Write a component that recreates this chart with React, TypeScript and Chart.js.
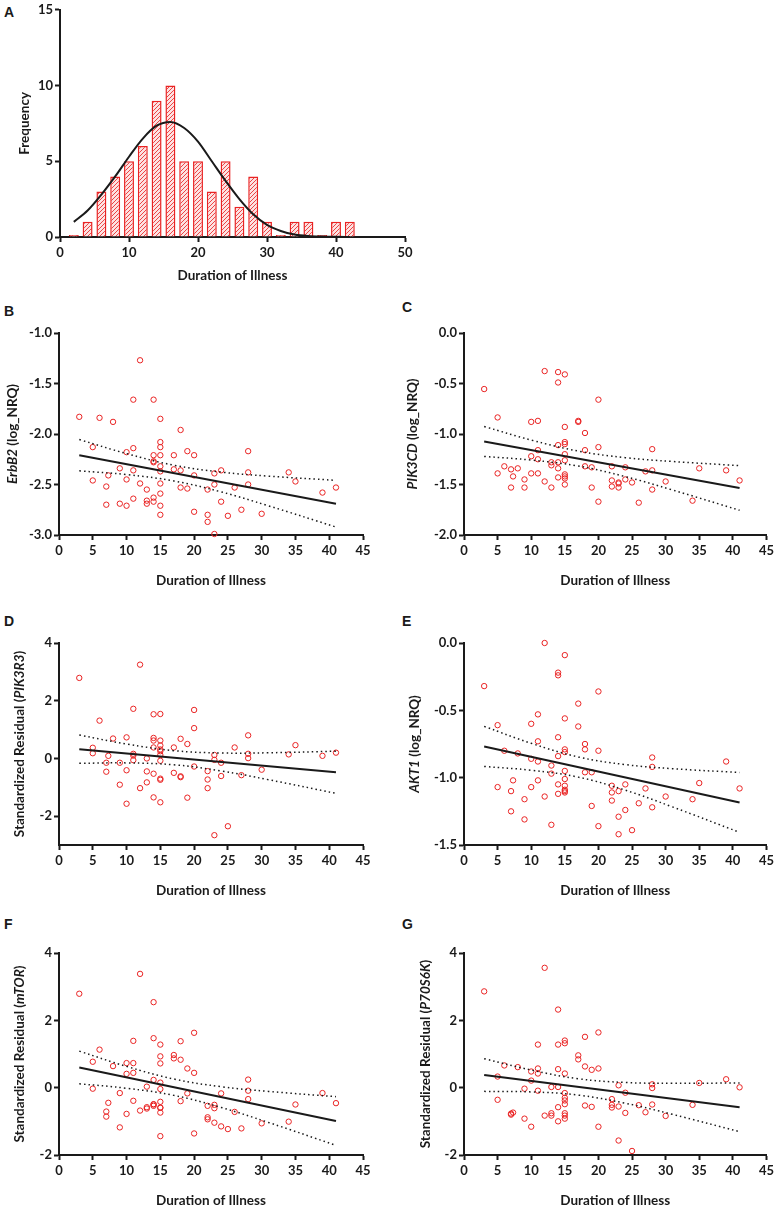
import React, { useEffect, useRef } from "react";
import { Chart, registerables } from "chart.js";
Chart.register(...registerables);

const FONT = "Lato, 'Open Sans', 'DejaVu Sans', sans-serif";
const INK = "#1a1a1a";
const RED = "rgb(233,35,35)";

// ---------- Panel A: histogram ----------
const histBins = [2, 4, 6, 8, 10, 12, 14, 16, 18, 20, 22, 24, 26, 28, 30, 32, 34, 36, 38, 40, 42];
const histFreq = [0, 1, 3, 4, 5, 6, 9, 10, 5, 5, 3, 5, 2, 4, 1, 0, 1, 1, 0, 1, 1];
const curveX = [2, 4, 6, 8, 10, 12, 14, 16, 18, 20, 22, 24, 26, 28, 30, 32, 34, 36, 38, 40, 42];
const curveY = [1.0, 1.75, 2.8, 4.0, 5.3, 6.5, 7.35, 7.6, 7.2, 6.3, 5.0, 3.7, 2.5, 1.5, 0.8, 0.4, 0.17, 0.07, 0.03, 0.01, 0.0];
const histXTicks = [0, 10, 20, 30, 40, 50];
const histYTicks = [0, 5, 10, 15];

// ---------- Scatter panels ----------
const duration = [3, 5, 5, 6, 7, 7, 7.3, 8, 9, 9, 10, 10, 10, 11, 11, 11, 11, 12, 12, 13, 13, 13, 14, 14, 14, 14, 14, 14, 15, 15, 15, 15, 15, 15, 15, 15, 15, 15, 17, 17, 18, 18, 18, 19, 19, 20, 20, 20, 22, 22, 22, 23, 23, 23, 24, 24, 25, 26, 27, 28, 28, 28, 30, 34, 35, 39, 41];
const durTicks = [0, 5, 10, 15, 20, 25, 30, 35, 40, 45];
const fitDur = [3, 41];
const ciDur = [3, 10, 17, 24, 31, 41];

const erbb2 = [-1.83, -2.13, -2.46, -1.84, -2.52, -2.70, -2.41, -1.88, -2.34, -2.69, -2.18, -2.45, -2.71, -1.66, -2.14, -2.36, -2.64, -1.27, -2.49, -2.55, -2.66, -2.69, -1.66, -2.21, -2.27, -2.28, -2.63, -2.67, -1.85, -2.08, -2.13, -2.21, -2.32, -2.37, -2.49, -2.59, -2.71, -2.80, -2.21, -2.35, -1.96, -2.36, -2.53, -2.17, -2.54, -2.21, -2.41, -2.77, -2.55, -2.80, -2.87, -2.39, -2.50, -2.99, -2.36, -2.67, -2.81, -2.53, -2.75, -2.17, -2.38, -2.50, -2.79, -2.38, -2.47, -2.58, -2.53];
const erbb2Fit = [-2.21, -2.69];
const erbb2Upper = [-2.055, -2.194, -2.309, -2.377, -2.417, -2.459];
const erbb2Lower = [-2.365, -2.402, -2.465, -2.573, -2.711, -2.921];
const erbb2Ticks = [-3, -2.5, -2, -1.5, -1];

const pik3cd = [-0.555, -0.836, -1.39, -1.32, -1.35, -1.53, -1.42, -1.34, -1.45, -1.53, -0.88, -1.22, -1.39, -0.87, -1.16, -1.25, -1.39, -0.377, -1.47, -1.28, -1.31, -1.53, -0.387, -0.49, -1.11, -1.28, -1.34, -1.43, -0.41, -0.93, -1.08, -1.10, -1.20, -1.26, -1.40, -1.42, -1.44, -1.50, -0.87, -0.88, -0.99, -1.16, -1.32, -1.33, -1.53, -0.66, -1.13, -1.67, -1.32, -1.46, -1.52, -1.48, -1.49, -1.53, -1.33, -1.45, -1.48, -1.68, -1.37, -1.15, -1.36, -1.55, -1.47, -1.66, -1.34, -1.36, -1.46];
const pik3cdFit = [-1.074, -1.534];
const pik3cdUpper = [-0.926, -1.06, -1.169, -1.234, -1.272, -1.313];
const pik3cdLower = [-1.222, -1.258, -1.317, -1.422, -1.554, -1.755];
const pik3cdTicks = [-2, -1.5, -1, -0.5, 0];

const pik3r3 = [2.79, 0.37, 0.18, 1.31, -0.15, -0.46, 0.09, 0.69, -0.15, -0.91, 0.73, -0.41, -1.57, 1.72, 0.16, 0.10, -0.06, 3.25, -1.03, 0.0, -0.45, -0.83, 1.53, 0.71, 0.62, 0.38, -0.53, -1.35, 1.54, 0.62, 0.45, 0.31, 0.25, 0.12, -0.08, -0.70, -0.74, -1.52, 0.38, -0.50, 0.68, -0.62, -0.65, 0.50, -1.36, 1.68, 1.05, -0.28, -0.44, -0.73, -1.03, 0.12, -0.05, -2.66, -0.15, -0.61, -2.35, 0.38, -0.58, 0.80, 0.16, 0.01, -0.39, 0.14, 0.46, 0.09, 0.20];
const pik3r3Fit = [0.32, -0.48];
const pik3r3Upper = [0.81, 0.501, 0.27, 0.189, 0.196, 0.25];
const pik3r3Lower = [-0.17, -0.155, -0.22, -0.433, -0.736, -1.21];
const residTicks = [-2, 0, 2, 4];

const akt1 = [-0.32, -0.61, -1.07, -0.80, -1.10, -1.25, -1.02, -0.82, -1.16, -1.31, -0.60, -0.86, -1.07, -0.53, -0.73, -0.88, -1.02, 0.0, -1.14, -0.91, -0.97, -1.35, -0.22, -0.24, -0.70, -0.84, -1.05, -1.12, -0.09, -0.56, -0.79, -0.81, -0.95, -1.01, -1.06, -1.09, -1.10, -1.11, -0.45, -0.62, -0.75, -0.79, -0.96, -0.96, -1.21, -0.36, -0.80, -1.36, -1.06, -1.11, -1.17, -1.10, -1.29, -1.42, -1.05, -1.24, -1.39, -1.19, -1.08, -0.85, -0.92, -1.22, -1.14, -1.16, -1.04, -0.88, -1.08];
const akt1Fit = [-0.768, -1.184];
const akt1Upper = [-0.619, -0.745, -0.846, -0.903, -0.933, -0.962];
const akt1Lower = [-0.917, -0.945, -0.996, -1.093, -1.217, -1.406];
const akt1Ticks = [-1.5, -1, -0.5, 0];

const mtor = [2.79, 0.77, -0.03, 1.13, -0.71, -0.86, -0.45, 0.64, -0.16, -1.18, 0.73, 0.41, -0.78, 1.39, 0.73, 0.44, -0.39, 3.38, -0.68, 0.03, -0.58, -0.62, 2.54, 1.47, 0.23, -0.49, -0.50, -0.54, 1.28, 0.93, 0.72, 0.15, -0.04, -0.42, -0.59, -0.60, -0.74, -1.44, 0.97, 0.87, 1.38, 0.83, -0.40, 0.57, -0.17, 1.63, 0.44, -1.36, -0.54, -0.88, -0.94, -0.51, -0.61, -1.04, -0.17, -1.15, -1.23, -0.72, -1.21, 0.24, -0.09, -0.34, -1.06, -1.01, -0.50, -0.16, -0.46];
const mtorFit = [0.60, -0.99];
const mtorUpper = [1.085, 0.632, 0.257, 0.029, -0.111, -0.267];
const mtorLower = [0.115, -0.018, -0.229, -0.587, -1.033, -1.713];

const p70s6k = [2.86, 0.33, -0.36, 0.66, -0.77, -0.80, -0.74, 0.61, -0.03, -0.92, 0.48, 0.21, -1.16, 1.28, 0.57, 0.42, -0.09, 3.56, -0.83, 0.02, -0.76, -0.83, 2.32, 1.28, 0.55, 0.02, -0.58, -1.0, 1.40, 1.32, 0.42, -0.16, -0.30, -0.38, -0.49, -0.76, -0.83, -0.92, 0.96, 0.84, 1.51, 0.63, -0.53, 0.53, -0.57, 1.64, 0.57, -1.16, -0.34, -0.51, -0.59, 0.07, -0.56, -1.57, -0.15, -0.75, -1.88, -0.52, -0.73, 0.10, -0.01, -0.50, -0.84, -0.51, 0.14, 0.25, 0.01];
const p70s6kFit = [0.375, -0.583];
const p70s6kUpper = [0.86, 0.524, 0.265, 0.154, 0.13, 0.14];
const p70s6kLower = [-0.11, -0.126, -0.221, -0.462, -0.792, -1.306];

// ---------- drawing helpers ----------
const textPlugin = {
  id: "panelText",
  afterDraw(chart: any, _args: any, opts: any) {
    if (!opts || !opts.ySegs) return;
    const { ctx, chartArea } = chart;
    ctx.save();
    ctx.fillStyle = INK;
    ctx.textAlign = "center";
    ctx.textBaseline = "middle";
    ctx.font = `bold ${opts.xSize}px ${FONT}`;
    ctx.fillText(opts.xTitle, (chartArea.left + chartArea.right) / 2, opts.xTitleY);
    ctx.translate(opts.yTitleX, (chartArea.top + chartArea.bottom) / 2);
    ctx.rotate(-Math.PI / 2);
    const fontOf = (s: any) => `${s.italic ? "italic " : ""}bold ${opts.ySize}px ${FONT}`;
    let total = 0;
    for (const s of opts.ySegs) {
      ctx.font = fontOf(s);
      total += ctx.measureText(s.text).width;
    }
    let x = -total / 2;
    ctx.textAlign = "left";
    for (const s of opts.ySegs) {
      ctx.font = fontOf(s);
      ctx.fillText(s.text, x, 0);
      x += ctx.measureText(s.text).width;
    }
    ctx.restore();
  },
};

function axis(min: number, max: number, ticks: number[], decimals: number, fixed: { width?: number; height?: number }, pad: number) {
  return {
    type: "linear",
    min,
    max,
    offset: false,
    afterBuildTicks: (s: any) => {
      s.ticks = ticks.map((v) => ({ value: v }));
    },
    afterFit: (s: any) => {
      if (fixed.width != null) s.width = fixed.width;
      if (fixed.height != null) s.height = fixed.height;
    },
    ticks: {
      color: INK,
      font: { family: FONT, size: 13, weight: "bold" },
      padding: pad,
      maxRotation: 0,
      autoSkip: false,
      callback: (v: any) => Number(v).toFixed(decimals),
    },
    grid: { display: true, drawOnChartArea: false, drawTicks: true, tickLength: 5, tickWidth: 2, tickColor: INK, offset: false },
    border: { display: true, color: INK, width: 2 },
  };
}

type Geom = { x: number; y: number; w: number; h: number; pl: number; pt: number; pr: number; pb: number; xTitleY: number; yTitleX: number };

function textOpts(g: Geom, ySegs: any[], ySize: number) {
  return { xTitle: "Duration of Illness", xTitleY: g.xTitleY - g.y, yTitleX: g.yTitleX - g.x, xSize: 13.5, ySize, ySegs };
}

function layoutPad(g: Geom) {
  return { top: g.pt - g.y, right: g.x + g.w - g.pr, left: 0, bottom: 0 };
}

type ScatterSpec = {
  geom: Geom;
  ys: number[];
  fit: number[];
  upper: number[];
  lower: number[];
  yMin: number;
  yMax: number;
  yTicks: number[];
  dec: number;
  ySegs: any[];
  letter: string;
  letterX: number;
  letterY: number;
};

function scatterConfig(p: ScatterSpec): any {
  const g = p.geom;
  const dotted = {
    showLine: true,
    borderColor: INK,
    borderWidth: 1.5,
    borderDash: [1.5, 3],
    pointRadius: 0,
    tension: 0.4,
    order: 2,
  };
  return {
    type: "scatter",
    data: {
      datasets: [
        {
          data: duration.map((x, i) => ({ x, y: p.ys[i] })),
          pointStyle: "circle",
          pointRadius: 2.7,
          pointBorderWidth: 1,
          pointBorderColor: RED,
          pointBackgroundColor: "rgba(0,0,0,0)",
          borderColor: RED,
          backgroundColor: "rgba(0,0,0,0)",
          clip: false,
          order: 3,
        },
        {
          data: fitDur.map((x, i) => ({ x, y: p.fit[i] })),
          showLine: true,
          borderColor: INK,
          borderWidth: 2,
          pointRadius: 0,
          order: 1,
        },
        { ...dotted, data: ciDur.map((x, i) => ({ x, y: p.upper[i] })) },
        { ...dotted, data: ciDur.map((x, i) => ({ x, y: p.lower[i] })) },
      ],
    },
    options: {
      responsive: false,
      animation: false,
      events: [],
      layout: { padding: layoutPad(g) },
      scales: {
        x: axis(0, 45, durTicks, 0, { height: g.y + g.h - g.pb }, 3),
        y: axis(p.yMin, p.yMax, p.yTicks, p.dec, { width: g.pl - g.x }, 2),
      },
      plugins: {
        legend: { display: false },
        tooltip: { enabled: false },
        panelText: textOpts(g, p.ySegs, 13.5),
      },
    },
    plugins: [textPlugin],
  };
}

function makeHatch(): any {
  const c = document.createElement("canvas");
  c.width = 4;
  c.height = 4;
  const x = c.getContext("2d")!;
  x.fillStyle = "#fde2e2";
  x.fillRect(0, 0, 4, 4);
  x.strokeStyle = "rgb(235,70,70)";
  x.lineWidth = 1;
  x.beginPath();
  x.moveTo(-1, 5);
  x.lineTo(5, -1);
  x.moveTo(-1, 1);
  x.lineTo(1, -1);
  x.moveTo(3, 5);
  x.lineTo(5, 3);
  x.stroke();
  return x.createPattern(c, "repeat");
}

const histGeom: Geom = { x: 0, y: 0, w: 420, h: 290, pl: 60, pt: 7, pr: 405, pb: 237, xTitleY: 276, yTitleX: 25 };

function histConfig(): any {
  const g = histGeom;
  return {
    type: "bar",
    data: {
      datasets: [
        {
          type: "line",
          data: curveX.map((x, i) => ({ x, y: curveY[i] })),
          borderColor: INK,
          borderWidth: 2,
          pointRadius: 0,
          cubicInterpolationMode: "monotone",
          order: 0,
        },
        {
          type: "bar",
          data: histBins.map((x, i) => ({ x, y: histFreq[i] })),
          backgroundColor: makeHatch(),
          borderColor: RED,
          borderWidth: 1.5,
          barPercentage: 0.72,
          categoryPercentage: 1,
          minBarLength: 2,
          order: 1,
        },
      ],
    },
    options: {
      responsive: false,
      animation: false,
      events: [],
      layout: { padding: layoutPad(g) },
      scales: {
        x: axis(0, 50, histXTicks, 0, { height: g.y + g.h - g.pb }, 3),
        y: axis(0, 15, histYTicks, 0, { width: g.pl - g.x }, 2),
      },
      plugins: {
        legend: { display: false },
        tooltip: { enabled: false },
        panelText: textOpts(g, [{ text: "Frequency" }], 13.5),
      },
    },
    plugins: [textPlugin],
  };
}

function ChartCanvas({ geom, build }: { geom: Geom; build: () => any }) {
  const ref = useRef<HTMLCanvasElement | null>(null);
  useEffect(() => {
    const chart = new Chart(ref.current as HTMLCanvasElement, build());
    return () => chart.destroy();
  }, []);
  return (
    <canvas
      ref={ref}
      width={geom.w}
      height={geom.h}
      style={{ position: "absolute", left: geom.x, top: geom.y, width: geom.w, height: geom.h }}
    />
  );
}

const resid = (name: string) => [{ text: "Standardized Residual (" }, { text: name, italic: true }, { text: ")" }];
const nrq = (name: string) => [{ text: name, italic: true }, { text: " (log_NRQ)" }];

const scatterPanels: ScatterSpec[] = [
  {
    geom: { x: 0, y: 295, w: 390, h: 300, pl: 59, pt: 333, pr: 363, pb: 535, xTitleY: 581, yTitleX: 13 },
    ys: erbb2, fit: erbb2Fit, upper: erbb2Upper, lower: erbb2Lower,
    yMin: -3, yMax: -1, yTicks: erbb2Ticks, dec: 1, ySegs: nrq("ErbB2"),
    letter: "B", letterX: 5, letterY: 305,
  },
  {
    geom: { x: 390, y: 295, w: 387, h: 300, pl: 464, pt: 333, pr: 768, pb: 535, xTitleY: 581, yTitleX: 413 },
    ys: pik3cd, fit: pik3cdFit, upper: pik3cdUpper, lower: pik3cdLower,
    yMin: -2, yMax: 0, yTicks: pik3cdTicks, dec: 1, ySegs: nrq("PIK3CD"),
    letter: "C", letterX: 403, letterY: 301,
  },
  {
    geom: { x: 0, y: 610, w: 390, h: 295, pl: 59, pt: 643, pr: 363, pb: 845, xTitleY: 891, yTitleX: 20 },
    ys: pik3r3, fit: pik3r3Fit, upper: pik3r3Upper, lower: pik3r3Lower,
    yMin: -3, yMax: 4, yTicks: residTicks, dec: 0, ySegs: resid("PIK3R3"),
    letter: "D", letterX: 5, letterY: 615,
  },
  {
    geom: { x: 390, y: 610, w: 387, h: 295, pl: 464, pt: 643, pr: 768, pb: 845, xTitleY: 891, yTitleX: 415 },
    ys: akt1, fit: akt1Fit, upper: akt1Upper, lower: akt1Lower,
    yMin: -1.5, yMax: 0, yTicks: akt1Ticks, dec: 1, ySegs: nrq("AKT1"),
    letter: "E", letterX: 403, letterY: 615,
  },
  {
    geom: { x: 0, y: 910, w: 390, h: 299, pl: 59, pt: 953, pr: 363, pb: 1155, xTitleY: 1201, yTitleX: 20 },
    ys: mtor, fit: mtorFit, upper: mtorUpper, lower: mtorLower,
    yMin: -2, yMax: 4, yTicks: residTicks, dec: 0, ySegs: resid("mTOR"),
    letter: "F", letterX: 5, letterY: 918,
  },
  {
    geom: { x: 390, y: 910, w: 387, h: 299, pl: 464, pt: 953, pr: 768, pb: 1155, xTitleY: 1201, yTitleX: 426 },
    ys: p70s6k, fit: p70s6kFit, upper: p70s6kUpper, lower: p70s6kLower,
    yMin: -2, yMax: 4, yTicks: residTicks, dec: 0, ySegs: resid("P70S6K"),
    letter: "G", letterX: 403, letterY: 918,
  },
];

const letterStyle = (x: number, y: number): React.CSSProperties => ({
  position: "absolute",
  left: x,
  top: y,
  font: "bold 14px 'Liberation Sans', Arial, sans-serif",
  lineHeight: 1,
  color: INK,
});

export default function App() {
  return (
    <div style={{ position: "absolute", left: 0, top: 0, width: 777, height: 1209, background: "#fff", overflow: "hidden" }}>
      <div style={letterStyle(4, 5)}>A</div>
      <ChartCanvas geom={histGeom} build={histConfig} />
      {scatterPanels.map((p) => (
        <React.Fragment key={p.letter}>
          <div style={letterStyle(p.letterX - 1, p.letterY - 1)}>{p.letter}</div>
          <ChartCanvas geom={p.geom} build={() => scatterConfig(p)} />
        </React.Fragment>
      ))}
    </div>
  );
}
